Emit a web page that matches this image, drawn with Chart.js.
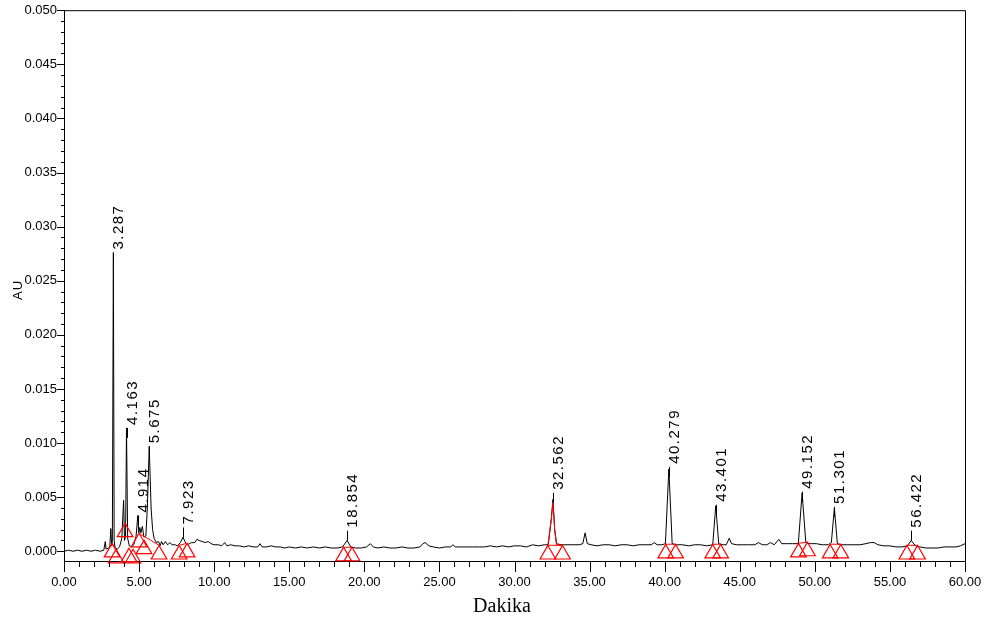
<!DOCTYPE html>
<html>
<head>
<meta charset="utf-8">
<script src="https://cdn.jsdelivr.net/npm/chart.js@4"></script>
<style>
  html, body { margin: 0; padding: 0; background: #fff; }
  #wrap { width: 984px; height: 622px; }
</style>
</head>
<body>
<div id="wrap"><canvas id="chart"></canvas></div>
<script>
// chromatogram trace, [minutes, AU]
const trace = [
  [0.0,0.0000],[0.3,0.0001],[0.6,0.0000],[0.9,0.0001],[1.2,0.0000],[1.5,0.0001],[1.8,0.0000],[2.1,0.0001],[2.4,0.0000],
  [2.65,0.0001],[2.75,0.0009],[2.8,0.0002],[2.95,0.0003],[3.05,0.0004],[3.12,0.0021],[3.17,0.0005],[3.22,0.0009],
  [3.287,0.0276],[3.34,0.0010],[3.4,0.0003],[3.55,0.0002],[3.7,0.0004],[3.85,0.0012],[3.97,0.0047],[4.03,0.0010],
  [4.1,0.0014],[4.163,0.0114],[4.24,0.0012],[4.35,0.0005],[4.5,0.0004],[4.65,0.0006],[4.8,0.0014],[4.914,0.0033],
  [4.98,0.0017],[5.05,0.0022],[5.12,0.0017],[5.22,0.0023],[5.32,0.0013],[5.45,0.0014],[5.55,0.0040],[5.675,0.0097],
  [5.8,0.0040],[5.9,0.0020],[6.0,0.0012],[6.15,0.0008],[6.3,0.0009],[6.4,0.0005],[6.5,0.0009],[6.6,0.0006],
  [6.75,0.0009],[6.9,0.0006],[7.05,0.0008],[7.2,0.0006],[7.4,0.0006],[7.55,0.0005],[7.75,0.0008],[7.923,0.0013],
  [8.05,0.0009],[8.2,0.0006],[8.35,0.0007],[8.5,0.0008],[8.7,0.0008],[8.85,0.0011],[9.0,0.0010],[9.2,0.0009],
  [9.4,0.0008],[9.6,0.0009],[9.8,0.0007],[10.0,0.0006],[10.3,0.0006],[10.5,0.0005],[10.7,0.0008],[10.85,0.0005],
  [11.1,0.0006],[11.4,0.0005],[11.7,0.0005],[12.0,0.0004],[12.3,0.0005],[12.6,0.0004],[12.9,0.0004],[13.05,0.0007],
  [13.2,0.0004],[13.5,0.0004],[13.8,0.0005],[14.1,0.0004],[14.4,0.0004],[14.7,0.0003],[15.0,0.0004],[15.4,0.0003],
  [15.8,0.0004],[16.2,0.0003],[16.6,0.0004],[17.0,0.0003],[17.4,0.0004],[17.8,0.0003],[18.2,0.0003],[18.55,0.0004],
  [18.854,0.0010],[19.1,0.0004],[19.4,0.0003],[19.8,0.0003],[20.15,0.0004],[20.4,0.0007],[20.6,0.0004],[20.9,0.0003],
  [21.3,0.0004],[21.7,0.0003],[22.1,0.0003],[22.5,0.0004],[22.9,0.0003],[23.3,0.0003],[23.7,0.0004],[23.9,0.0007],
  [24.05,0.0008],[24.3,0.0005],[24.6,0.0004],[25.0,0.0003],[25.4,0.0004],[25.75,0.0004],[25.9,0.0006],[26.05,0.0004],
  [26.4,0.0004],[26.8,0.0004],[27.2,0.0004],[27.6,0.0004],[28.0,0.0004],[28.4,0.0005],[28.8,0.0004],[29.2,0.0005],
  [29.6,0.0004],[30.0,0.0005],[30.4,0.0005],[30.8,0.0004],[31.2,0.0006],[31.6,0.0005],[32.0,0.0006],[32.25,0.0006],
  [32.45,0.0030],[32.562,0.0048],[32.68,0.0020],[32.8,0.0007],[33.1,0.0006],[33.5,0.0006],[33.9,0.0006],[34.3,0.0006],
  [34.55,0.0007],[34.7,0.0017],[34.85,0.0007],[35.1,0.0006],[35.5,0.0005],[35.9,0.0006],[36.3,0.0006],[36.7,0.0005],
  [37.1,0.0006],[37.5,0.0006],[37.9,0.0005],[38.3,0.0006],[38.7,0.0006],[39.1,0.0006],[39.3,0.0008],[39.5,0.0006],
  [39.8,0.0006],[40.05,0.0007],[40.279,0.0076],[40.5,0.0007],[40.8,0.0006],[41.2,0.0006],[41.6,0.0005],[42.0,0.0006],
  [42.4,0.0006],[42.8,0.0005],[43.2,0.0006],[43.401,0.0042],[43.6,0.0007],[43.9,0.0006],[44.1,0.0006],[44.3,0.0012],
  [44.45,0.0007],[44.8,0.0006],[45.2,0.0006],[45.6,0.0006],[46.0,0.0006],[46.25,0.0008],[46.5,0.0006],[46.8,0.0006],
  [47.05,0.0008],[47.3,0.0006],[47.6,0.0011],[47.8,0.0007],[48.1,0.0007],[48.5,0.0007],[48.9,0.0007],[49.152,0.0054],
  [49.4,0.0008],[49.7,0.0007],[50.1,0.0007],[50.5,0.0006],[50.9,0.0006],[51.1,0.0008],[51.301,0.0040],[51.5,0.0007],
  [51.8,0.0006],[52.2,0.0006],[52.6,0.0006],[53.0,0.0006],[53.4,0.0007],[53.7,0.0008],[53.95,0.0008],[54.2,0.0006],
  [54.6,0.0005],[55.0,0.0005],[55.4,0.0004],[55.8,0.0004],[56.15,0.0005],[56.422,0.0010],[56.7,0.0005],[57.0,0.0004],
  [57.4,0.0003],[57.8,0.0003],[58.2,0.0003],[58.6,0.0004],[59.0,0.0004],[59.4,0.0004],[59.7,0.0005],[60.0,0.0007]
];

// labelled peaks: retention time and top of the marker line (AU)
const peakTimes = [3.287, 4.163, 4.914, 5.675, 7.923, 18.854, 32.562, 40.279, 43.401, 49.152, 51.301, 56.422];
const peakTops  = [0.0276, 0.0114, 0.0033, 0.0097, 0.0022, 0.0019, 0.0054, 0.0078, 0.0043, 0.0055, 0.0041, 0.0019];

// peak start / end markers (triangle centres)
const markerTimes = [3.2, 3.47, 4.07, 4.33, 4.6, 5.0, 5.33, 6.33, 7.67, 8.2,
                     18.62, 19.18, 32.22, 33.2, 40.07, 40.73, 43.2, 43.73, 48.91, 49.51, 51.02, 51.73, 56.13, 56.84];
const markerAU = [-0.0001, -0.00065, 0.00176, -0.00055, -0.00065, 0.00083, 0.0002, -0.0003, -0.0003, -0.0001,
                  -0.00046, -0.00046, -0.0003, -0.0003, -0.0002, -0.0002, -0.0002, -0.0002, -0.0001, 0.0, -0.0002, -0.0002, -0.0003, -0.0003];

// integration baselines and the highlighted peak (null breaks the line)
const baselines = [
  [3.2,0.00074],[3.47,0.00018],null,
  [5.0,0.00166],[6.33,0.00055],null,
  [7.67,0.00055],[8.2,0.00074],null,
  [18.62,0.00037],[19.18,0.00037],null,
  [32.22,0.00055],[32.45,0.0029],[32.56,0.0045],[32.68,0.0019],[32.8,0.00058],[33.2,0.00055],null,
  [32.22,0.00055],[33.2,0.00055],null,
  [40.07,0.00065],[40.73,0.00065],null,
  [43.2,0.00065],[43.73,0.00065],null,
  [48.91,0.00074],[49.51,0.00083],null,
  [51.02,0.00065],[51.73,0.00065],null,
  [56.13,0.00055],[56.84,0.00055]
];

const xTicks = [0, 5, 10, 15, 20, 25, 30, 35, 40, 45, 50, 55, 60];
const yTicks = [0, 0.005, 0.010, 0.015, 0.020, 0.025, 0.030, 0.035, 0.040, 0.045, 0.050];

const sans = "'Liberation Sans', Arial, sans-serif";

const decor = {
    id: 'decor',
    afterDraw(chart) {
        const { ctx, chartArea: a, scales: { x, y } } = chart;
        ctx.save();
        ctx.strokeStyle = '#000';
        ctx.lineWidth = 1;
        ctx.beginPath();
        // top and right frame
        ctx.moveTo(a.left, a.top + 0.5);
        ctx.lineTo(a.right + 0.5, a.top + 0.5);
        ctx.lineTo(a.right + 0.5, a.bottom + 2);
        // x ticks, major every 5 min, minor every minute
        for (let t = 0; t <= 60; t++) {
            const px = Math.round(x.getPixelForValue(t)) + 0.5;
            ctx.moveTo(px, a.bottom + 1);
            ctx.lineTo(px, a.bottom + (t % 5 === 0 ? 11 : 6));
        }
        // y ticks, major every 0.005, minor every 0.001
        for (let i = 0; i <= 50; i++) {
            const py = Math.round(y.getPixelForValue(i / 1000)) + 0.5;
            ctx.moveTo(a.left, py);
            ctx.lineTo(a.left - (i % 5 === 0 ? 7 : 3), py);
        }
        ctx.stroke();

        // axis titles
        ctx.fillStyle = '#000';
        ctx.textAlign = 'center';
        ctx.textBaseline = 'middle';
        ctx.font = "20px 'Liberation Serif', 'Times New Roman', serif";
        ctx.fillText('Dakika', 502, 607);
        ctx.save();
        ctx.translate(18, 290);
        ctx.rotate(-Math.PI / 2);
        ctx.font = "13px " + sans;
        ctx.letterSpacing = '1px';
        ctx.fillText('AU', 0, 0);
        ctx.restore();

        // peak labels
        ctx.font = "15px " + sans;
        ctx.letterSpacing = '1.5px';
        ctx.textAlign = 'left';
        peakTimes.forEach((t, i) => {
            const px = Math.round(x.getPixelForValue(t)) + 0.5;
            const py = y.getPixelForValue(peakTops[i]);
            ctx.beginPath();
            ctx.moveTo(px, py);
            ctx.lineTo(px, py + 10);
            ctx.stroke();
            ctx.save();
            ctx.translate(px + 5, py - 3);
            ctx.rotate(-Math.PI / 2);
            ctx.fillText(t.toFixed(3), 0, 0);
            ctx.restore();
        });
        ctx.restore();
    }
};

new Chart(document.getElementById('chart'), {
    type: 'scatter',
    data: {
        datasets: [
            {
                label: 'markers',
                data: markerTimes.map((t, i) => ({ x: t, y: markerAU[i] })),
                pointStyle: 'triangle',
                pointRadius: 9,
                pointBorderColor: '#ff0000',
                pointBackgroundColor: 'rgba(0,0,0,0)',
                pointBorderWidth: 1.2,
                showLine: false,
                clip: false,
                order: 0
            },
            {
                label: 'baselines',
                data: baselines.map(p => p ? { x: p[0], y: p[1] } : { x: null, y: null }),
                showLine: true,
                spanGaps: false,
                borderColor: '#ff0000',
                borderWidth: 1,
                pointRadius: 0,
                order: 1
            },
            {
                label: 'AU',
                data: trace.map(p => ({ x: p[0], y: p[1] })),
                showLine: true,
                borderColor: '#000',
                borderWidth: 1,
                pointRadius: 0,
                tension: 0,
                order: 2
            }
        ]
    },
    options: {
        responsive: true,
        maintainAspectRatio: false,
        animation: false,
        devicePixelRatio: 1,
        layout: { padding: { top: 10, right: 19, left: 0, bottom: 0 } },
        plugins: { legend: { display: false }, tooltip: { enabled: false } },
        scales: {
            x: {
                type: 'linear',
                min: 0,
                max: 60,
                afterFit: s => { s.height = 61; s.paddingLeft = 0; s.paddingRight = 0; },
                afterBuildTicks: s => { s.ticks = xTicks.map(v => ({ value: v })); },
                grid: { display: false, drawTicks: false },
                border: { display: true, color: '#000', width: 1 },
                ticks: {
                    color: '#000',
                    padding: 14,
                    maxRotation: 0,
                    autoSkip: false,
                    font: { family: sans, size: 13 },
                    callback: v => v.toFixed(2)
                }
            },
            y: {
                type: 'linear',
                min: -0.0009,
                max: 0.050,
                afterFit: s => { s.width = 64; s.paddingTop = 0; s.paddingBottom = 0; },
                afterBuildTicks: s => { s.ticks = yTicks.map(v => ({ value: v })); },
                grid: { display: false, drawTicks: false },
                border: { display: true, color: '#000', width: 1 },
                ticks: {
                    color: '#000',
                    padding: 7,
                    autoSkip: false,
                    font: { family: sans, size: 13 },
                    callback: v => v.toFixed(3)
                }
            }
        }
    },
    plugins: [decor]
});
</script>
</body>
</html>
